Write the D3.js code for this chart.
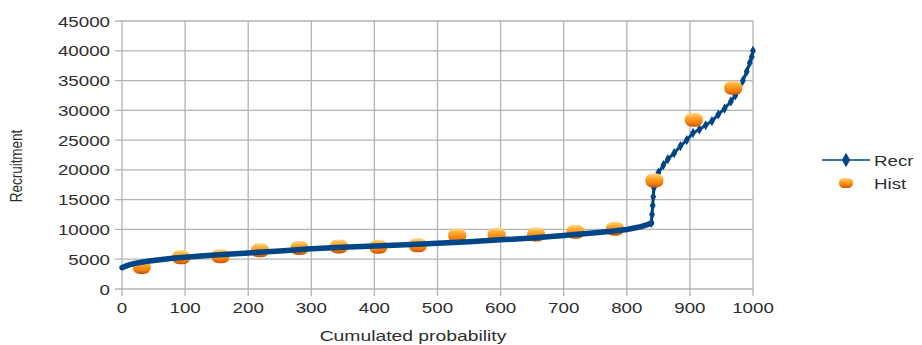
<!DOCTYPE html>
<html>
<head>
<meta charset="utf-8">
<script src="https://cdn.jsdelivr.net/npm/d3@7"></script>
<style>
  body { margin: 0; background: #fff; }
  text { font-family: "Liberation Sans", Arial, sans-serif; fill: #2e2e2e; }
</style>
</head>
<body>
<div id="chart"></div>
<script>
// Recr curve: cumulated probability / recruitment
const recrProb = [0, 10, 20, 40, 60, 80, 100, 130, 160, 200, 250, 300, 350, 400, 450, 500, 550, 600, 650, 700,
  750, 780, 800, 820, 835, 839, 840, 841, 842, 843, 845, 850, 858, 865, 875, 885, 895, 905, 915, 925,
  935, 945, 955, 965, 972, 978, 984, 990, 995, 998, 1000];
const recrValue = [3600, 4000, 4300, 4650, 4900, 5150, 5350, 5600, 5800, 6050, 6400, 6750, 7000, 7200, 7450, 7700, 7950, 8250, 8550, 9000,
  9450, 9750, 10000, 10400, 10900, 11100, 12500, 14000, 15500, 17000, 18300, 19500, 20800, 21800, 22800, 24000, 25000, 26200, 26800, 27500,
  28200, 29300, 30300, 31500, 32500, 33500, 35000, 36500, 38000, 39000, 40000];

// Hist points
const histProb = [31.25, 93.75, 156.25, 218.75, 281.25, 343.75, 406.25, 468.75, 531.25, 593.75, 656.25, 718.75, 781.25, 843.75, 906.25, 968.75];
const histValue = [3700, 5350, 5500, 6500, 6900, 7150, 7100, 7350, 9000, 9100, 9150, 9600, 10100, 18200, 28400, 33800];

const xTicks = [0, 100, 200, 300, 400, 500, 600, 700, 800, 900, 1000];
const yTicks = [0, 5000, 10000, 15000, 20000, 25000, 30000, 35000, 40000, 45000];

const width = 922, height = 345;
const blue = '#004586';
const grid = '#b3b3b3';
const stretch = 1.25; // the picture is a bit wider than tall
const jumpAt = 839; // past this the points are sparse and the markers show one by one

const svg = d3.select('#chart').append('svg').attr('width', width).attr('height', height);

const x = d3.scaleLinear().domain([0, 1000]).range([122, 753]);
const y = d3.scaleLinear().domain([0, 45000]).range([289, 21]);

// gradient for the orange beads
const defs = svg.append('defs');
const grad = defs.append('linearGradient').attr('id', 'bead').attr('x1', 0).attr('y1', 0).attr('x2', 0).attr('y2', 1);
grad.append('stop').attr('offset', '0%').attr('stop-color', '#ffd98a');
grad.append('stop').attr('offset', '35%').attr('stop-color', '#ffa52a');
grad.append('stop').attr('offset', '75%').attr('stop-color', '#f07a0c');
grad.append('stop').attr('offset', '100%').attr('stop-color', '#c94f05');

// grid
svg.append('g')
  .selectAll('line')
  .data(yTicks)
  .enter()
  .append('line')
  .attr('x1', x(0) - 7)
  .attr('x2', x(1000))
  .attr('y1', (d) => y(d))
  .attr('y2', (d) => y(d))
  .attr('stroke', grid)
  .attr('stroke-width', 1.3);

svg.append('g')
  .selectAll('line')
  .data(xTicks)
  .enter()
  .append('line')
  .attr('x1', (d) => x(d))
  .attr('x2', (d) => x(d))
  .attr('y1', y(45000))
  .attr('y2', y(0) + 7)
  .attr('stroke', grid)
  .attr('stroke-width', 1.3);

// tick labels, stretched a little sideways like the source
svg.append('g')
  .selectAll('text')
  .data(yTicks)
  .enter()
  .append('text')
  .attr('transform', (d) => `translate(${x(0) - 12},${y(d) + 5.5}) scale(${stretch},1)`)
  .attr('text-anchor', 'end')
  .attr('font-size', 15)
  .text((d) => d);

svg.append('g')
  .selectAll('text')
  .data(xTicks)
  .enter()
  .append('text')
  .attr('transform', (d) => `translate(${x(d)},${y(0) + 24}) scale(${stretch},1)`)
  .attr('text-anchor', 'middle')
  .attr('font-size', 15)
  .text((d) => d);

// axis titles
svg.append('text')
  .attr('transform', `translate(413,341) scale(1.38,1)`)
  .attr('text-anchor', 'middle')
  .attr('font-size', 14)
  .text('Cumulated probability');

svg.append('text')
  .attr('transform', `translate(22,166) scale(${stretch},1) rotate(-90)`)
  .attr('text-anchor', 'middle')
  .attr('font-size', 13.5)
  .text('Recruitment');

const recr = recrProb.map((p, i) => ({ p, v: recrValue[i] }));
const dense = recr.filter((d) => d.p <= jumpAt);
const sparse = recr.filter((d) => d.p >= jumpAt);
const line = d3.line().x((d) => x(d.p)).y((d) => y(d.v));

// sparse upper run of Recr: thin line with single markers, under the beads
svg.append('path')
  .datum(sparse)
  .attr('d', line)
  .attr('fill', 'none')
  .attr('stroke', blue)
  .attr('stroke-width', 3)
  .attr('stroke-linejoin', 'round');

const diamond = d3.symbol().type(d3.symbolDiamond).size(30);
svg.append('g')
  .selectAll('path')
  .data(sparse)
  .enter()
  .append('path')
  .attr('d', diamond)
  .attr('transform', (d) => `translate(${x(d.p)},${y(d.v)})`)
  .attr('fill', blue);

// Hist beads
const hist = histProb.map((p, i) => ({ p, v: histValue[i] }));
svg.append('g')
  .selectAll('rect')
  .data(hist)
  .enter()
  .append('rect')
  .attr('x', (d) => x(d.p) - 9)
  .attr('y', (d) => y(d.v) - 7)
  .attr('width', 18)
  .attr('height', 14)
  .attr('rx', 7)
  .attr('ry', 6)
  .attr('fill', 'url(#bead)');

// dense band of Recr runs over the lower beads
svg.append('path')
  .datum(dense)
  .attr('d', line)
  .attr('fill', 'none')
  .attr('stroke', blue)
  .attr('stroke-width', 5.5)
  .attr('stroke-linejoin', 'round')
  .attr('stroke-linecap', 'round');

// legend
const legend = svg.append('g').attr('class', 'legend');
legend.append('line')
  .attr('x1', 822).attr('x2', 870).attr('y1', 160).attr('y2', 160)
  .attr('stroke', blue).attr('stroke-width', 1.5);
legend.append('path')
  .attr('d', d3.symbol().type(d3.symbolDiamond).size(60))
  .attr('transform', 'translate(846,160)')
  .attr('fill', blue);
legend.append('rect')
  .attr('x', 839).attr('y', 178).attr('width', 14).attr('height', 10)
  .attr('rx', 5).attr('ry', 4)
  .attr('fill', 'url(#bead)');
legend.append('text')
  .attr('transform', `translate(874,166) scale(${stretch},1)`)
  .attr('font-size', 15)
  .text('Recr');
legend.append('text')
  .attr('transform', `translate(874,189) scale(${stretch},1)`)
  .attr('font-size', 15)
  .text('Hist');
</script>
</body>
</html>
